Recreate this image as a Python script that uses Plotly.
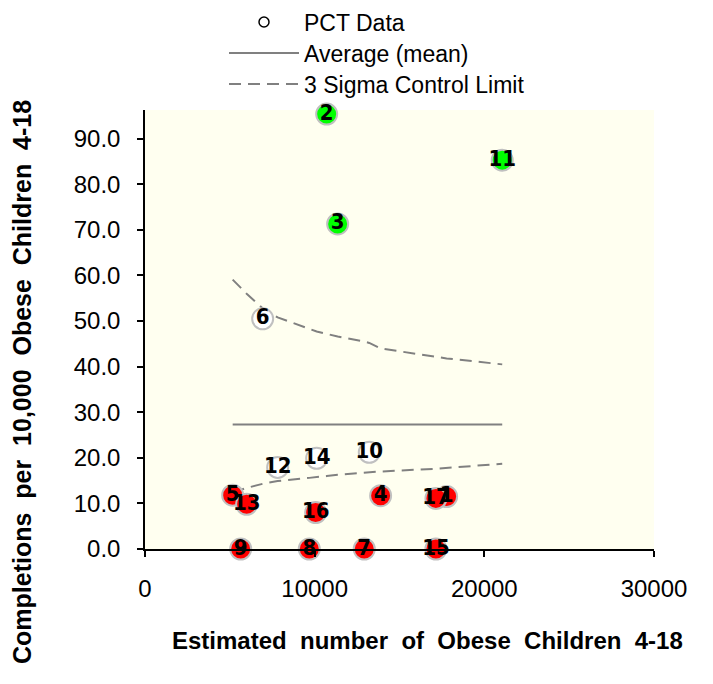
import plotly.graph_objects as go

# ---- data ----
point_ids = ["1", "2", "3", "4", "5", "6", "7", "8", "9", "10", "11", "12", "13", "14", "15", "16", "17"]
obese_children = [17778, 10707, 11355, 13887, 5167, 6935, 12923, 9683, 5639, 13218, 21055, 7819, 5992, 10117, 17148, 10058, 17148]
completions_rate = [11.5, 95.4, 71.3, 11.7, 11.8, 50.5, 0.0, 0.0, 0.0, 21.2, 85.3, 17.9, 9.8, 19.9, 0.0, 8.0, 11.1]
upper_limit = [41.8, 47.2, 46.6, 44.0, 59.1, 52.8, 45.5, 48.3, 57.3, 45.2, 40.5, 50.8, 56.0, 47.7, 42.2, 47.8, 42.2]
lower_limit = [17.8, 16.0, 16.3, 17.0, 12.4, 14.3, 16.7, 15.6, 13.0, 16.8, 18.7, 14.9, 13.4, 15.8, 17.6, 15.8, 17.6]
mean_rate = 27.3

x_ticks = [0, 10000, 20000, 30000]
y_ticks = [0, 10, 20, 30, 40, 50, 60, 70, 80, 90]

# ---- styling ----
GREEN = "#00FF00"
RED = "#FF0000"
WHITE = "#FFFFFF"
GRAY = "#808080"
OFF = 8                      # page body margin
W, H = 713 - 2 * OFF, 684 - 2 * OFF
# plot area, in page pixels of the reference, converted to figure pixels
PL, PR, PT, PB = 145 - OFF, 654 - OFF, 110 - OFF, 549 - OFF

colors = []
for y, u, l in zip(completions_rate, upper_limit, lower_limit):
    if y > u:
        colors.append(GREEN)
    elif y < l:
        colors.append(RED)
    else:
        colors.append(WHITE)

order = sorted(range(len(obese_children)), key=lambda i: obese_children[i])
xs_sorted = [obese_children[i] for i in order]
ucl_sorted = [upper_limit[i] for i in order]
lcl_sorted = [lower_limit[i] for i in order]

fig = go.Figure()

fig.add_trace(go.Scatter(
    x=[None], y=[None], mode="markers", name="PCT Data", legend="legend",
    marker=dict(symbol="circle-open", size=10, color="black", line=dict(width=1.5, color="black")),
))

fig.add_trace(go.Scatter(
    x=[min(obese_children), max(obese_children)], y=[mean_rate, mean_rate],
    mode="lines", name="Average (mean)", legend="legend2",
    line=dict(color=GRAY, width=2),
))

DASH = "12px,7px"
fig.add_trace(go.Scatter(
    x=xs_sorted, y=ucl_sorted, mode="lines", name="3 Sigma Control Limit", legend="legend3",
    line=dict(color=GRAY, width=2, dash=DASH),
))
fig.add_trace(go.Scatter(
    x=xs_sorted, y=lcl_sorted, mode="lines", name="3 Sigma Control Limit",
    showlegend=False,
    line=dict(color=GRAY, width=2, dash=DASH),
))

fig.add_trace(go.Scatter(
    x=obese_children, y=completions_rate, mode="markers+text",
    text=point_ids, textposition="middle center",
    textfont=dict(family="Liberation Sans Narrow, Arial Narrow, DejaVu Sans Condensed, sans-serif",
                  size=22, color="black", weight="bold"),
    marker=dict(size=21, color=colors, line=dict(color="#C0C0C0", width=2)),
    showlegend=False, cliponaxis=False,
))


def legend_at(cy):
    return dict(
        x=(224 - OFF) / W, y=1 - (cy - OFF) / H, xref="container", yref="container",
        xanchor="left", yanchor="middle",
        font=dict(size=23, color="black"),
        bgcolor="rgba(0,0,0,0)", itemwidth=70,
    )


fig.update_layout(
    width=W, height=H,
    margin=dict(l=PL, r=W - PR, t=PT, b=H - PB, autoexpand=False),
    paper_bgcolor="white",
    plot_bgcolor="#FFFFF0",
    font=dict(family="Liberation Sans, Arial, sans-serif", color="black"),
    showlegend=True,
    legend=legend_at(22),
    legend2=legend_at(53),
    legend3=legend_at(84),
    xaxis=dict(
        range=[0, 30000], tickvals=x_ticks, ticktext=[str(v) for v in x_ticks],
        showgrid=False, zeroline=False, showline=True, linecolor="black", linewidth=1.5,
        ticks="outside", ticklen=6, tickcolor="black", tickwidth=1.5,
        tickfont=dict(size=24), ticklabelstandoff=11,
    ),
    yaxis=dict(
        range=[0, 96.3], tickvals=y_ticks, ticktext=[f"{v:.1f}" for v in y_ticks],
        showgrid=False, zeroline=False, showline=True, linecolor="black", linewidth=1.5,
        ticks="outside", ticklen=6, tickcolor="black", tickwidth=1.5,
        tickfont=dict(size=24), ticklabelstandoff=12,
    ),
    annotations=[
        dict(text="<b>Estimated &nbsp;number &nbsp;of &nbsp;Obese &nbsp;Children &nbsp;4-18</b>",
             xref="paper", yref="paper",
             x=(427 - OFF - PL) / (PR - PL), y=-(640 - OFF - PB) / (PB - PT), showarrow=False,
             xanchor="center", yanchor="middle", font=dict(size=24)),
        dict(text="<b>Completions &nbsp;per &nbsp;10,000 &nbsp;Obese &nbsp;Children &nbsp;4-18</b>",
             xref="paper", yref="paper",
             x=-(PL - (22 - OFF)) / (PR - PL), y=(PB - (382 - OFF)) / (PB - PT), showarrow=False,
             textangle=-90, xanchor="center", yanchor="middle", font=dict(size=25)),
    ],
)

fig.write_html("out.html")
